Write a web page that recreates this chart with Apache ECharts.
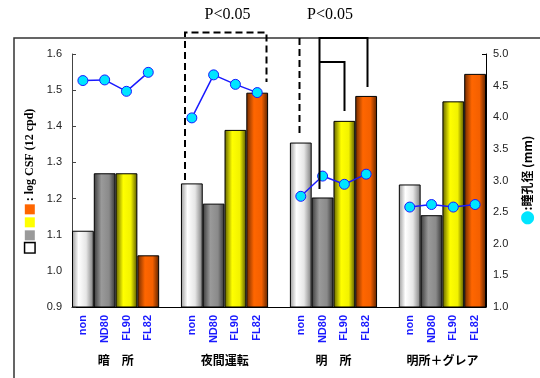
<!DOCTYPE html>
<html><head><meta charset="utf-8">
<script src="https://cdn.jsdelivr.net/npm/echarts@6/dist/echarts.min.js"></script>
<style>html,body{margin:0;padding:0;background:#fff;}#c{width:540px;height:378px;}</style>
</head><body><div id="c"></div>
<script>
// ---- data ----
const groups = ['暗　所', '夜間運転', '明　所', '明所＋グレア'];
const filters = ['non', 'ND80', 'FL90', 'FL82'];
// log CSF (12 cpd) per group, one array per filter
const csfNon  = [1.111, 1.242, 1.355, 1.239];
const csfND80 = [1.270, 1.186, 1.203, 1.154];
const csfFL90 = [1.270, 1.390, 1.415, 1.469];
const csfFL82 = [1.043, 1.493, 1.484, 1.545];
// pupil diameter (mm) per group, in filter order
const pupilDark   = [4.58, 4.59, 4.41, 4.71];
const pupilNight  = [3.99, 4.67, 4.52, 4.39];
const pupilBright = [2.75, 3.07, 2.94, 3.10];
const pupilGlare  = [2.58, 2.62, 2.58, 2.62];
const csfTicks = { min: 0.9, max: 1.6, step: 0.1 };
const pupilTicks = { min: 1.0, max: 5.0, step: 0.5 };

// ---- build slots: 4 bars per group, one empty slot between groups ----
const csfByFilter = [csfNon, csfND80, csfFL90, csfFL82];
const pupilByGroup = [pupilDark, pupilNight, pupilBright, pupilGlare];
const slots = [];
groups.forEach((g, gi) => {
  filters.forEach((f, fi) => slots.push({ g: gi, f: fi, key: gi + '-' + fi, label: f }));
  if (gi < groups.length - 1) slots.push({ g: gi, f: -1, key: 'gap' + gi, label: '' });
});
const cats = slots.map(s => s.key);

function grad(stops) {
  return { type: 'linear', x: 0, y: 0, x2: 1, y2: 0,
    colorStops: stops.map(c => ({ offset: c[0], color: c[1] })) };
}
const barFills = [
  grad([[0, '#9a9a9a'], [0.3, '#ffffff'], [0.65, '#e6e6e6'], [1, '#7a7a7a']]),
  grad([[0, '#3a3a3a'], [0.35, '#9a9a9a'], [0.7, '#8a8a8a'], [1, '#333333']]),
  grad([[0, '#5e5e00'], [0.35, '#ffff00'], [0.7, '#f2f200'], [1, '#545400']]),
  grad([[0, '#6e2a00'], [0.35, '#ff6600'], [0.7, '#f46000'], [1, '#5a2200']])
];

const barSeries = filters.map((f, fi) => ({
  name: f, type: 'bar', xAxisIndex: 0, yAxisIndex: 0,
  barGap: '-100%', barCategoryGap: 0,
  itemStyle: { color: barFills[fi], borderColor: '#000', borderWidth: 1 },
  data: slots.map(s => s.f === fi ? csfByFilter[fi][s.g] : '-')
}));

const lineSeries = {
  name: 'pupil', type: 'line', xAxisIndex: 0, yAxisIndex: 1,
  symbol: 'circle', symbolSize: 10, connectNulls: false, z: 5,
  lineStyle: { color: '#1a1aff', width: 1.5 },
  itemStyle: { color: '#00e5ff', borderColor: '#1a1aff', borderWidth: 1 },
  data: slots.map(s => s.f >= 0 ? pupilByGroup[s.g][s.f] : '-')
};

const chart = echarts.init(document.getElementById('c'), null, { renderer: 'canvas' });
const axisFont = { fontFamily: 'Liberation Sans', fontSize: 11, color: '#222' };

chart.setOption({
  animation: false,
  backgroundColor: '#fff',
  grid: { left: 72, right: 54, top: 54, bottom: 71, containLabel: false, outerBoundsMode: 'none' },
  xAxis: [
    {
      type: 'category', data: cats, position: 'bottom',
      axisLine: { show: true, lineStyle: { color: '#000', width: 1 } },
      axisTick: { show: false },
      axisLabel: {
        interval: 0, rotate: 90, margin: 8,
        fontFamily: 'Liberation Sans', fontSize: 11, fontWeight: 'bold', color: '#1a1aff',
        formatter: (v, i) => slots[i].label
      }
    },
    {
      type: 'category', data: cats, position: 'bottom',
      axisLine: { show: false }, axisTick: { show: false },
      axisLabel: {
        interval: 0, margin: 47, padding: [0, 0, 0, 22],
        fontFamily: 'Noto Sans CJK JP', fontSize: 12, fontWeight: 'bold', color: '#000',
        formatter: (v, i) => slots[i].f === 1 ? groups[slots[i].g] : ''
      }
    }
  ],
  yAxis: [
    {
      type: 'value', position: 'left',
      min: csfTicks.min, max: csfTicks.max, interval: csfTicks.step,
      splitLine: { show: false },
      axisLine: { show: true, lineStyle: { color: '#444', width: 1 } },
      axisTick: { show: true, inside: true, length: 4, lineStyle: { color: '#444' } },
      axisLabel: Object.assign({ margin: 10, formatter: v => v.toFixed(1) }, axisFont),
      name: '{w|}{sp|}{g|}{sp|}{y|}{sp|}{o|}{t| : log CSF (12 cpd)}',
      nameLocation: 'middle', nameRotate: 90, nameGap: 31,
      nameTextStyle: {
        rich: {
          w: { width: 9, height: 9, backgroundColor: '#fff', borderColor: '#000', borderWidth: 1.5 },
          g: { width: 10, height: 10, backgroundColor: '#9a9a9a' },
          y: { width: 10, height: 10, backgroundColor: '#ffff00' },
          o: { width: 10, height: 10, backgroundColor: '#ff6600' },
          sp: { width: 3, height: 10 },
          t: { fontFamily: 'Liberation Serif', fontWeight: 'bold', fontSize: 12, color: '#000' }
        }
      }
    },
    {
      type: 'value', position: 'right',
      min: pupilTicks.min, max: pupilTicks.max, interval: pupilTicks.step,
      splitLine: { show: false },
      axisLine: { show: true, lineStyle: { color: '#000', width: 1 } },
      axisTick: { show: true, inside: true, length: 4, lineStyle: { color: '#000' } },
      axisLabel: Object.assign({ margin: 7, formatter: v => v.toFixed(1) }, axisFont),
      name: '{c|●}{t|:瞳孔径 (mm)}',
      nameLocation: 'middle', nameRotate: 90, nameGap: 29,
      nameTextStyle: {
        rich: {
          c: { color: '#00e5ff', fontSize: 17, fontFamily: 'DejaVu Sans' },
          t: { fontFamily: 'Noto Sans CJK JP', fontWeight: 'bold', fontSize: 12, color: '#000' }
        }
      }
    }
  ],
  series: barSeries.concat([lineSeries]),
  graphic: [
    { type: 'polyline', silent: true, z: 10,
      shape: { points: [[14, 378], [14, 38], [540, 38]] },
      style: { stroke: '#333', lineWidth: 1.5, fill: null } },
    { type: 'polyline', silent: true, z: 10,
      shape: { points: [[185, 180], [185, 32.5], [266.5, 32.5], [266.5, 82]] },
      style: { stroke: '#000', lineWidth: 2, lineDash: [7, 4], fill: null } },
    { type: 'line', silent: true, z: 10,
      shape: { x1: 299.5, y1: 38, x2: 299.5, y2: 133 },
      style: { stroke: '#000', lineWidth: 2, lineDash: [7, 4] } },
    { type: 'polyline', silent: true, z: 10,
      shape: { points: [[319.5, 189], [319.5, 38], [367.5, 38], [367.5, 87]] },
      style: { stroke: '#000', lineWidth: 2, fill: null } },
    { type: 'polyline', silent: true, z: 10,
      shape: { points: [[319.5, 62], [344.5, 62], [344.5, 111]] },
      style: { stroke: '#000', lineWidth: 2, fill: null } },
    { type: 'text', silent: true, z: 10, x: 227.5, y: 14.5,
      style: { text: 'P<0.05', font: '16px "Liberation Serif"', fill: '#000', align: 'center', verticalAlign: 'middle' } },
    { type: 'text', silent: true, z: 10, x: 330, y: 14.5,
      style: { text: 'P<0.05', font: '16px "Liberation Serif"', fill: '#000', align: 'center', verticalAlign: 'middle' } }
  ]
});
</script></body></html>
